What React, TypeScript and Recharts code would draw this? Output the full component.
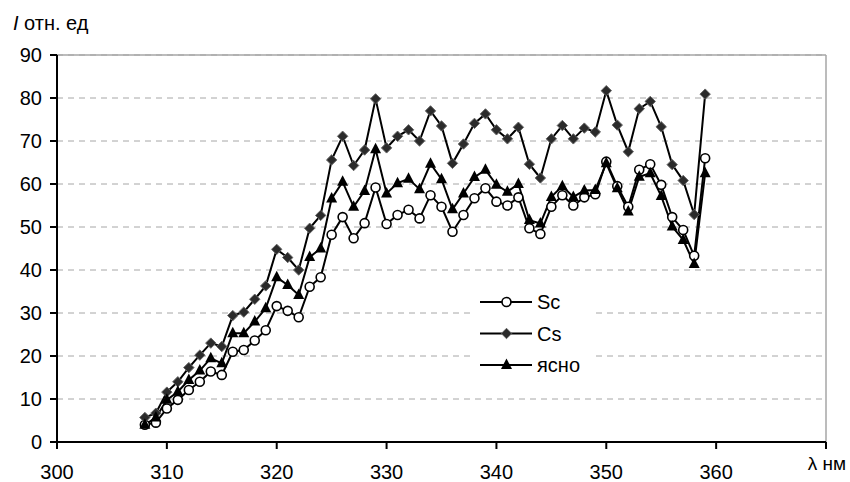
import {
  CartesianGrid,
  Legend,
  Line,
  LineChart,
  ReferenceLine,
  XAxis,
  YAxis,
} from "recharts";

const wavelengths = [
  308, 309, 310, 311, 312, 313, 314, 315, 316, 317, 318, 319, 320, 321, 322,
  323, 324, 325, 326, 327, 328, 329, 330, 331, 332, 333, 334, 335, 336, 337,
  338, 339, 340, 341, 342, 343, 344, 345, 346, 347, 348, 349, 350, 351, 352,
  353, 354, 355, 356, 357, 358, 359,
];

const sc = [
  4.0, 4.5, 7.8, 9.8, 12.1, 14.0, 16.4, 15.6, 21.0, 21.4, 23.6, 26.0, 31.6,
  30.5, 29.0, 36.1, 38.3, 48.2, 52.3, 47.4, 50.9, 59.2, 50.7, 52.8, 54.0, 52.0,
  57.4, 54.7, 48.9, 52.8, 56.7, 59.0, 55.9, 55.0, 56.9, 49.7, 48.4, 54.7, 57.4,
  55.0, 56.9, 57.6, 65.2, 59.5, 54.7, 63.3, 64.6, 59.8, 52.3, 49.3, 43.3, 66.0,
];

const cs = [
  5.7, 6.7, 11.6, 14.0, 17.3, 20.2, 23.0, 22.2, 29.4, 30.2, 33.2, 36.3, 44.8,
  42.9, 40.0, 49.7, 52.7, 65.6, 71.1, 64.3, 67.9, 79.8, 68.4, 71.1, 72.6, 70.0,
  77.0, 73.5, 64.8, 69.3, 74.1, 76.3, 72.6, 70.5, 73.2, 64.6, 61.4, 70.5, 73.6,
  70.5, 73.0, 72.1, 81.7, 73.7, 67.5, 77.5, 79.2, 73.3, 64.5, 60.8, 52.9, 80.9,
];

const clear = [
  4.0, 5.7, 9.8, 11.7, 14.4, 16.6, 19.5, 18.3, 25.3, 25.3, 28.0, 31.1, 38.3,
  36.5, 34.2, 43.0, 45.0, 56.6, 60.5, 54.7, 58.4, 68.1, 57.8, 60.2, 61.2, 58.8,
  64.7, 61.1, 54.1, 57.8, 61.6, 63.3, 59.8, 58.2, 60.0, 51.6, 50.8, 57.0, 59.5,
  57.0, 58.5, 58.6, 64.8, 59.0, 53.6, 61.7, 62.5, 57.2, 50.1, 47.0, 41.4, 62.5,
];

const xTicks = [300, 310, 320, 330, 340, 350, 360, 370];
const yTicks = [0, 10, 20, 30, 40, 50, 60, 70, 80, 90];

const data = wavelengths.map((w, i) => ({
  w,
  sc: sc[i],
  cs: cs[i],
  clear: clear[i],
}));

const FONT = "'Liberation Sans', Arial, sans-serif";

function CircleDot({ cx, cy }: any) {
  if (cx == null || cy == null) return null;
  return <circle cx={cx} cy={cy} r={4.5} fill="#fff" stroke="#000" strokeWidth={1.6} />;
}

function DiamondDot({ cx, cy }: any) {
  if (cx == null || cy == null) return null;
  const d = 5.2;
  return (
    <polygon
      points={`${cx},${cy - d} ${cx + d},${cy} ${cx},${cy + d} ${cx - d},${cy}`}
      fill="#2b2b2b"
      stroke="#666"
      strokeWidth={1}
    />
  );
}

function TriangleDot({ cx, cy }: any) {
  if (cx == null || cy == null) return null;
  return (
    <polygon
      points={`${cx},${cy - 6.5} ${cx + 5.5},${cy + 4} ${cx - 5.5},${cy + 4}`}
      fill="#000"
    />
  );
}

// 370 has no number in the original, the axis caption sits there instead
function XTick({ x, y, payload }: any) {
  if (payload.value === 370) {
    return (
      <text x={x + 1} y={y + 19} textAnchor="middle" fontSize={19} fontFamily={FONT} fill="#000">
        λ нм
      </text>
    );
  }
  return (
    <text x={x} y={y + 27.5} textAnchor="middle" fontSize={20} fontFamily={FONT} fill="#000">
      {payload.value}
    </text>
  );
}

const legendItems = [
  { name: "Sc", Dot: CircleDot },
  { name: "Cs", Dot: DiamondDot },
  { name: "ясно", Dot: TriangleDot },
];

function LegendBox() {
  return (
    <svg width={122} height={95} style={{ background: "#fff", display: "block" }}>
      {legendItems.map((item, i) => {
        const cy = 17 + i * 31.5;
        return (
          <g key={item.name}>
            <line x1={7} x2={59} y1={cy} y2={cy} stroke="#000" strokeWidth={2} />
            <item.Dot cx={33.5} cy={cy} />
            <text x={64} y={cy + 7} fontSize={20} fontFamily={FONT} fill="#000">
              {item.name}
            </text>
          </g>
        );
      })}
    </svg>
  );
}

export default function App() {
  return (
    <div style={{ position: "relative", width: 850, height: 482 }}>
      <style>{"body{margin:0}"}</style>
      <LineChart
        width={850}
        height={482}
        data={data}
        margin={{ top: 55, right: 24, bottom: 0, left: 0 }}
      >
        <CartesianGrid
          vertical={false}
          stroke="#a6a6a6"
          strokeDasharray="6 5"
        />
        <ReferenceLine y={90} stroke="#a6a6a6" strokeWidth={1.5} />
        <ReferenceLine x={370} stroke="#a6a6a6" strokeWidth={1.5} />
        <XAxis
          dataKey="w"
          type="number"
          domain={[300, 370]}
          ticks={xTicks}
          interval={0}
          height={40}
          stroke="#000"
          strokeWidth={2}
          tickSize={7}
          tick={<XTick />}
          allowDataOverflow
        />
        <YAxis
          type="number"
          domain={[0, 90]}
          ticks={yTicks}
          interval={0}
          width={57}
          stroke="#000"
          strokeWidth={2}
          tickSize={7}
          tickMargin={8}
          tick={{ fill: "#000", fontSize: 20, fontFamily: FONT }}
        />
        <Legend
          layout="horizontal"
          verticalAlign="middle"
          align="center"
          content={() => <LegendBox />}
          wrapperStyle={{ position: "absolute", left: 473, top: 285, width: 122, height: 95 }}
        />
        <Line
          dataKey="sc"
          name="Sc"
          stroke="#000"
          strokeWidth={2}
          dot={<CircleDot />}
          activeDot={false}
          isAnimationActive={false}
        />
        <Line
          dataKey="cs"
          name="Cs"
          stroke="#000"
          strokeWidth={2}
          dot={<DiamondDot />}
          activeDot={false}
          isAnimationActive={false}
        />
        <Line
          dataKey="clear"
          name="ясно"
          stroke="#000"
          strokeWidth={2}
          dot={<TriangleDot />}
          activeDot={false}
          isAnimationActive={false}
        />
      </LineChart>
      <div
        style={{
          position: "absolute",
          left: 13,
          top: 11,
          fontSize: 20,
          fontFamily: FONT,
          lineHeight: "24px",
          color: "#000",
        }}
      >
        <i>I</i> отн. ед
      </div>
    </div>
  );
}
